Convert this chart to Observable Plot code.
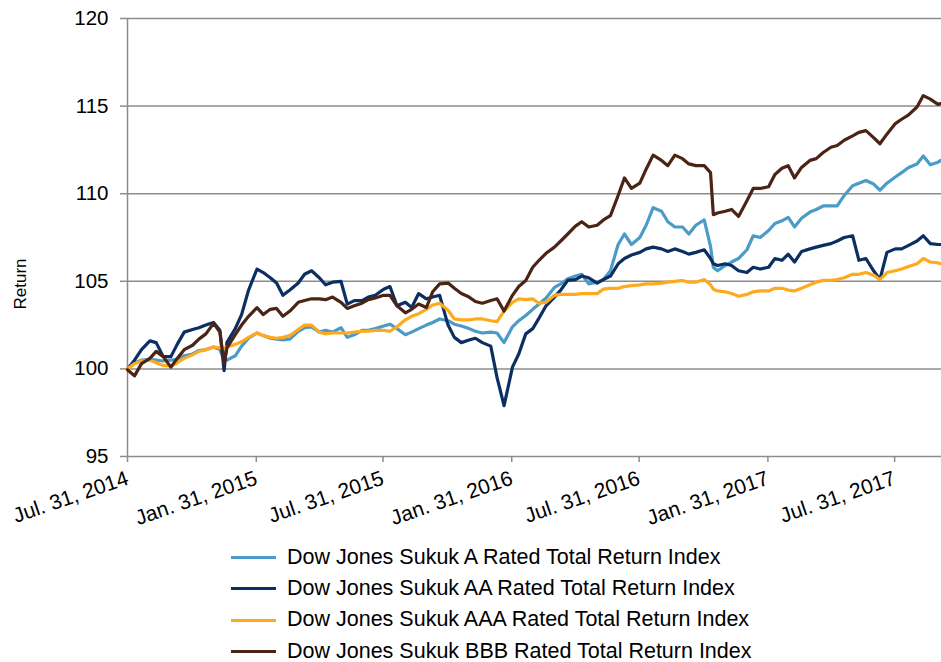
<!DOCTYPE html>
<html>
<head>
<meta charset="utf-8">
<script src="https://cdn.jsdelivr.net/npm/d3@7"></script>
<script src="https://cdn.jsdelivr.net/npm/@observablehq/plot@0.6"></script>
<style>
  body { margin: 0; background: #fff; font-family: "Liberation Sans", Arial, sans-serif; }
  #wrap { position: relative; width: 941px; height: 662px; }
  #legend { position: absolute; left: 231px; top: 542px; }
  .row { display: flex; align-items: center; height: 31.3px; }
  .sw { width: 45px; height: 3px; margin-right: 11px; }
  .lbl { font-size: 21.5px; line-height: 1; color: #000; white-space: nowrap; }
</style>
</head>
<body>
<div id="wrap"><div id="chart"></div><div id="legend"></div></div>
<script>
const dates = [
"2014-07-31","2014-08-10","2014-08-20","2014-09-01","2014-09-10","2014-09-20","2014-10-01","2014-10-10","2014-10-20","2014-11-01","2014-11-10","2014-11-20","2014-12-01","2014-12-10","2014-12-16","2014-12-20",
"2015-01-01","2015-01-10","2015-01-20","2015-02-01","2015-02-10","2015-02-20","2015-03-01","2015-03-10","2015-03-20","2015-04-01","2015-04-10","2015-04-20","2015-05-01","2015-05-10","2015-05-20","2015-06-01","2015-06-10","2015-06-20","2015-07-01","2015-07-10","2015-07-20","2015-08-01","2015-08-10","2015-08-20","2015-09-01","2015-09-10","2015-09-20","2015-10-01","2015-10-10","2015-10-20","2015-11-01","2015-11-10","2015-11-20","2015-12-01","2015-12-10","2015-12-20",
"2016-01-01","2016-01-10","2016-01-20","2016-02-01","2016-02-10","2016-02-20","2016-03-01","2016-03-10","2016-03-20","2016-04-01","2016-04-10","2016-04-20","2016-05-01","2016-05-10","2016-05-20","2016-06-01","2016-06-10","2016-06-20","2016-07-01","2016-07-10","2016-07-20","2016-08-01","2016-08-10","2016-08-20","2016-09-01","2016-09-10","2016-09-20","2016-10-01","2016-10-10","2016-10-20","2016-11-01","2016-11-10","2016-11-14","2016-11-20","2016-12-01","2016-12-10","2016-12-20",
"2017-01-01","2017-01-10","2017-01-20","2017-02-01","2017-02-10","2017-02-20","2017-03-01","2017-03-10","2017-03-20","2017-04-01","2017-04-10","2017-04-20","2017-05-01","2017-05-10","2017-05-20","2017-06-01","2017-06-10","2017-06-20","2017-07-01","2017-07-10","2017-07-20","2017-08-01","2017-08-10","2017-08-20","2017-09-01","2017-09-10","2017-09-20","2017-10-01","2017-10-05"
];

const sukukA = [
100.0,100.35,100.5,100.55,100.5,100.45,100.5,100.55,100.75,100.85,101.05,101.1,101.25,101.1,100.5,100.5,
100.75,101.3,101.75,102.05,101.9,101.75,101.7,101.65,101.7,102.15,102.35,102.4,102.1,102.2,102.1,102.35,101.8,101.95,102.2,102.2,102.3,102.45,102.55,102.3,101.95,102.1,102.3,102.5,102.65,102.85,102.75,102.55,102.45,102.3,102.15,102.05,
102.1,102.05,101.5,102.4,102.75,103.05,103.4,103.7,104.05,104.65,104.85,105.15,105.3,105.4,104.85,104.95,105.1,105.6,107.1,107.7,107.1,107.5,108.2,109.2,109.0,108.4,108.1,108.1,107.7,108.2,108.5,107.0,105.8,105.6,105.9,106.1,106.3,
106.8,107.6,107.5,107.9,108.3,108.45,108.65,108.1,108.6,108.95,109.1,109.3,109.3,109.3,109.9,110.45,110.6,110.75,110.55,110.2,110.6,110.95,111.2,111.5,111.7,112.15,111.65,111.8,111.9
];

const sukukAA = [
100.0,100.5,101.1,101.6,101.5,100.7,100.7,101.4,102.1,102.25,102.35,102.5,102.65,102.2,99.9,101.5,
102.3,103.1,104.5,105.7,105.5,105.2,104.9,104.2,104.5,104.9,105.4,105.6,105.2,104.8,104.95,105.0,103.7,103.9,103.9,104.1,104.2,104.55,104.7,103.6,103.8,103.5,104.3,104.0,104.1,104.2,102.5,101.8,101.5,101.65,101.75,101.5,
101.3,99.5,97.9,100.1,100.85,102.0,102.3,102.9,103.6,104.1,104.5,105.05,105.1,105.3,105.2,104.9,105.1,105.3,106.0,106.3,106.5,106.65,106.85,106.95,106.85,106.7,106.85,106.7,106.55,106.65,106.8,106.3,106.0,105.9,106.0,105.9,105.6,
105.5,105.8,105.7,105.8,106.3,106.2,106.55,106.1,106.7,106.85,106.95,107.05,107.15,107.3,107.5,107.6,106.2,106.3,105.6,105.1,106.65,106.85,106.85,107.05,107.3,107.6,107.15,107.1,107.1
];

const sukukAAA = [
100.0,100.3,100.45,100.5,100.35,100.2,100.15,100.35,100.6,100.8,101.0,101.1,101.25,101.2,101.2,101.25,
101.4,101.55,101.8,102.05,101.9,101.8,101.75,101.8,101.9,102.25,102.5,102.5,102.1,102.0,102.05,102.05,102.05,102.1,102.15,102.15,102.2,102.2,102.15,102.4,102.8,103.0,103.15,103.4,103.65,103.75,103.35,102.85,102.8,102.8,102.85,102.85,
102.75,102.7,103.3,103.8,104.0,103.95,104.0,103.75,103.8,104.2,104.25,104.25,104.25,104.3,104.3,104.3,104.55,104.6,104.6,104.7,104.75,104.8,104.85,104.85,104.9,104.95,105.0,105.05,104.95,104.95,105.1,104.8,104.55,104.45,104.4,104.3,104.15,
104.25,104.4,104.45,104.45,104.6,104.6,104.5,104.45,104.6,104.8,104.95,105.05,105.05,105.1,105.2,105.4,105.4,105.5,105.35,105.1,105.5,105.6,105.7,105.85,106.0,106.3,106.1,106.05,106.0
];

const sukukBBB = [
99.95,99.6,100.3,100.6,101.0,100.7,100.1,100.6,101.1,101.35,101.7,102.0,102.6,102.1,100.3,101.2,
101.95,102.5,103.0,103.5,103.1,103.4,103.45,103.0,103.3,103.8,103.9,104.0,104.0,103.95,104.1,103.8,103.45,103.6,103.75,103.95,104.05,104.2,104.2,103.6,103.2,103.4,103.7,103.5,104.4,104.85,104.9,104.6,104.3,104.1,103.85,103.75,
103.9,104.0,103.3,104.2,104.7,105.05,105.8,106.2,106.6,106.95,107.3,107.7,108.15,108.4,108.1,108.2,108.5,108.75,109.9,110.9,110.3,110.6,111.4,112.2,111.9,111.6,112.2,112.0,111.7,111.6,111.6,111.2,108.8,108.9,109.0,109.1,108.7,
109.6,110.3,110.3,110.4,111.1,111.45,111.6,110.9,111.5,111.9,112.0,112.35,112.65,112.75,113.05,113.3,113.5,113.6,113.2,112.85,113.4,114.0,114.25,114.5,114.95,115.6,115.4,115.1,115.15
];

const seriesNames = [
  "Dow Jones Sukuk A Rated Total Return Index",
  "Dow Jones Sukuk AA Rated Total Return Index",
  "Dow Jones Sukuk AAA Rated Total Return Index",
  "Dow Jones Sukuk BBB Rated Total Return Index"
];
const seriesColors = ["#4a9bc8", "#0b2f62", "#ffaa1d", "#4b2415"];
const xTickDates = ["2014-07-31","2015-01-31","2015-07-31","2016-01-31","2016-07-31","2017-01-31","2017-07-31"];
const xTickLabels = ["Jul. 31, 2014","Jan. 31, 2015","Jul. 31, 2015","Jan. 31, 2016","Jul. 31, 2016","Jan. 31, 2017","Jul. 31, 2017"];
const yTicks = [95, 100, 105, 110, 115, 120];
const yLabel = "Return";

const allSeries = [sukukA, sukukAA, sukukAAA, sukukBBB];
const rows = [];
allSeries.forEach((vals, i) => {
  vals.forEach((v, j) => rows.push({date: new Date(dates[j]), value: v, series: seriesNames[i]}));
});

const tickDates = xTickDates.map(d => new Date(d));
const labelOf = new Map(tickDates.map((d, i) => [+d, xTickLabels[i]]));
const xStart = new Date("2014-07-31");
const xEnd = new Date("2017-10-06");
const gray = "#8c8c8c";

const chart = Plot.plot({
  width: 941,
  height: 535,
  marginLeft: 127,
  marginRight: 0,
  marginTop: 18,
  marginBottom: 79,
  style: {fontFamily: "'Liberation Sans', Arial, sans-serif", fontSize: "20px", color: "#000", background: "#fff", overflow: "visible"},
  x: {type: "utc", domain: [xStart, xEnd]},
  y: {domain: [95, 120]},
  color: {domain: seriesNames, range: seriesColors},
  marks: [
    Plot.ruleY(yTicks, {stroke: gray, strokeWidth: 1.5}),
    Plot.ruleX([xStart], {y1: 95, y2: 120, stroke: gray, strokeWidth: 1.5}),
    Plot.axisY({ticks: yTicks, tickSize: 7, tickPadding: 12, stroke: gray, strokeWidth: 1.5, fontSize: 20.5, fill: "#000", label: null}),
    Plot.axisX({ticks: tickDates, tickFormat: d => labelOf.get(+d), tickSize: 6, tickPadding: 15, tickRotate: -19, stroke: gray, strokeWidth: 1.5, fontSize: 21, fill: "#000", label: null}),
    Plot.text([yLabel], {frameAnchor: "left", dx: -107, dy: 72, rotate: -90, fontSize: 17, fill: "#000"}),
    Plot.line(rows, {x: "date", y: "value", z: "series", stroke: "series", strokeWidth: 3.2, strokeLinejoin: "round", curve: "linear"})
  ]
});
document.getElementById("chart").appendChild(chart);

const legend = document.getElementById("legend");
seriesNames.forEach((n, i) => {
  const r = document.createElement("div"); r.className = "row";
  const s = document.createElement("div"); s.className = "sw"; s.style.background = seriesColors[i];
  const t = document.createElement("div"); t.className = "lbl"; t.textContent = n;
  r.appendChild(s); r.appendChild(t); legend.appendChild(r);
});
</script>
</body>
</html>
